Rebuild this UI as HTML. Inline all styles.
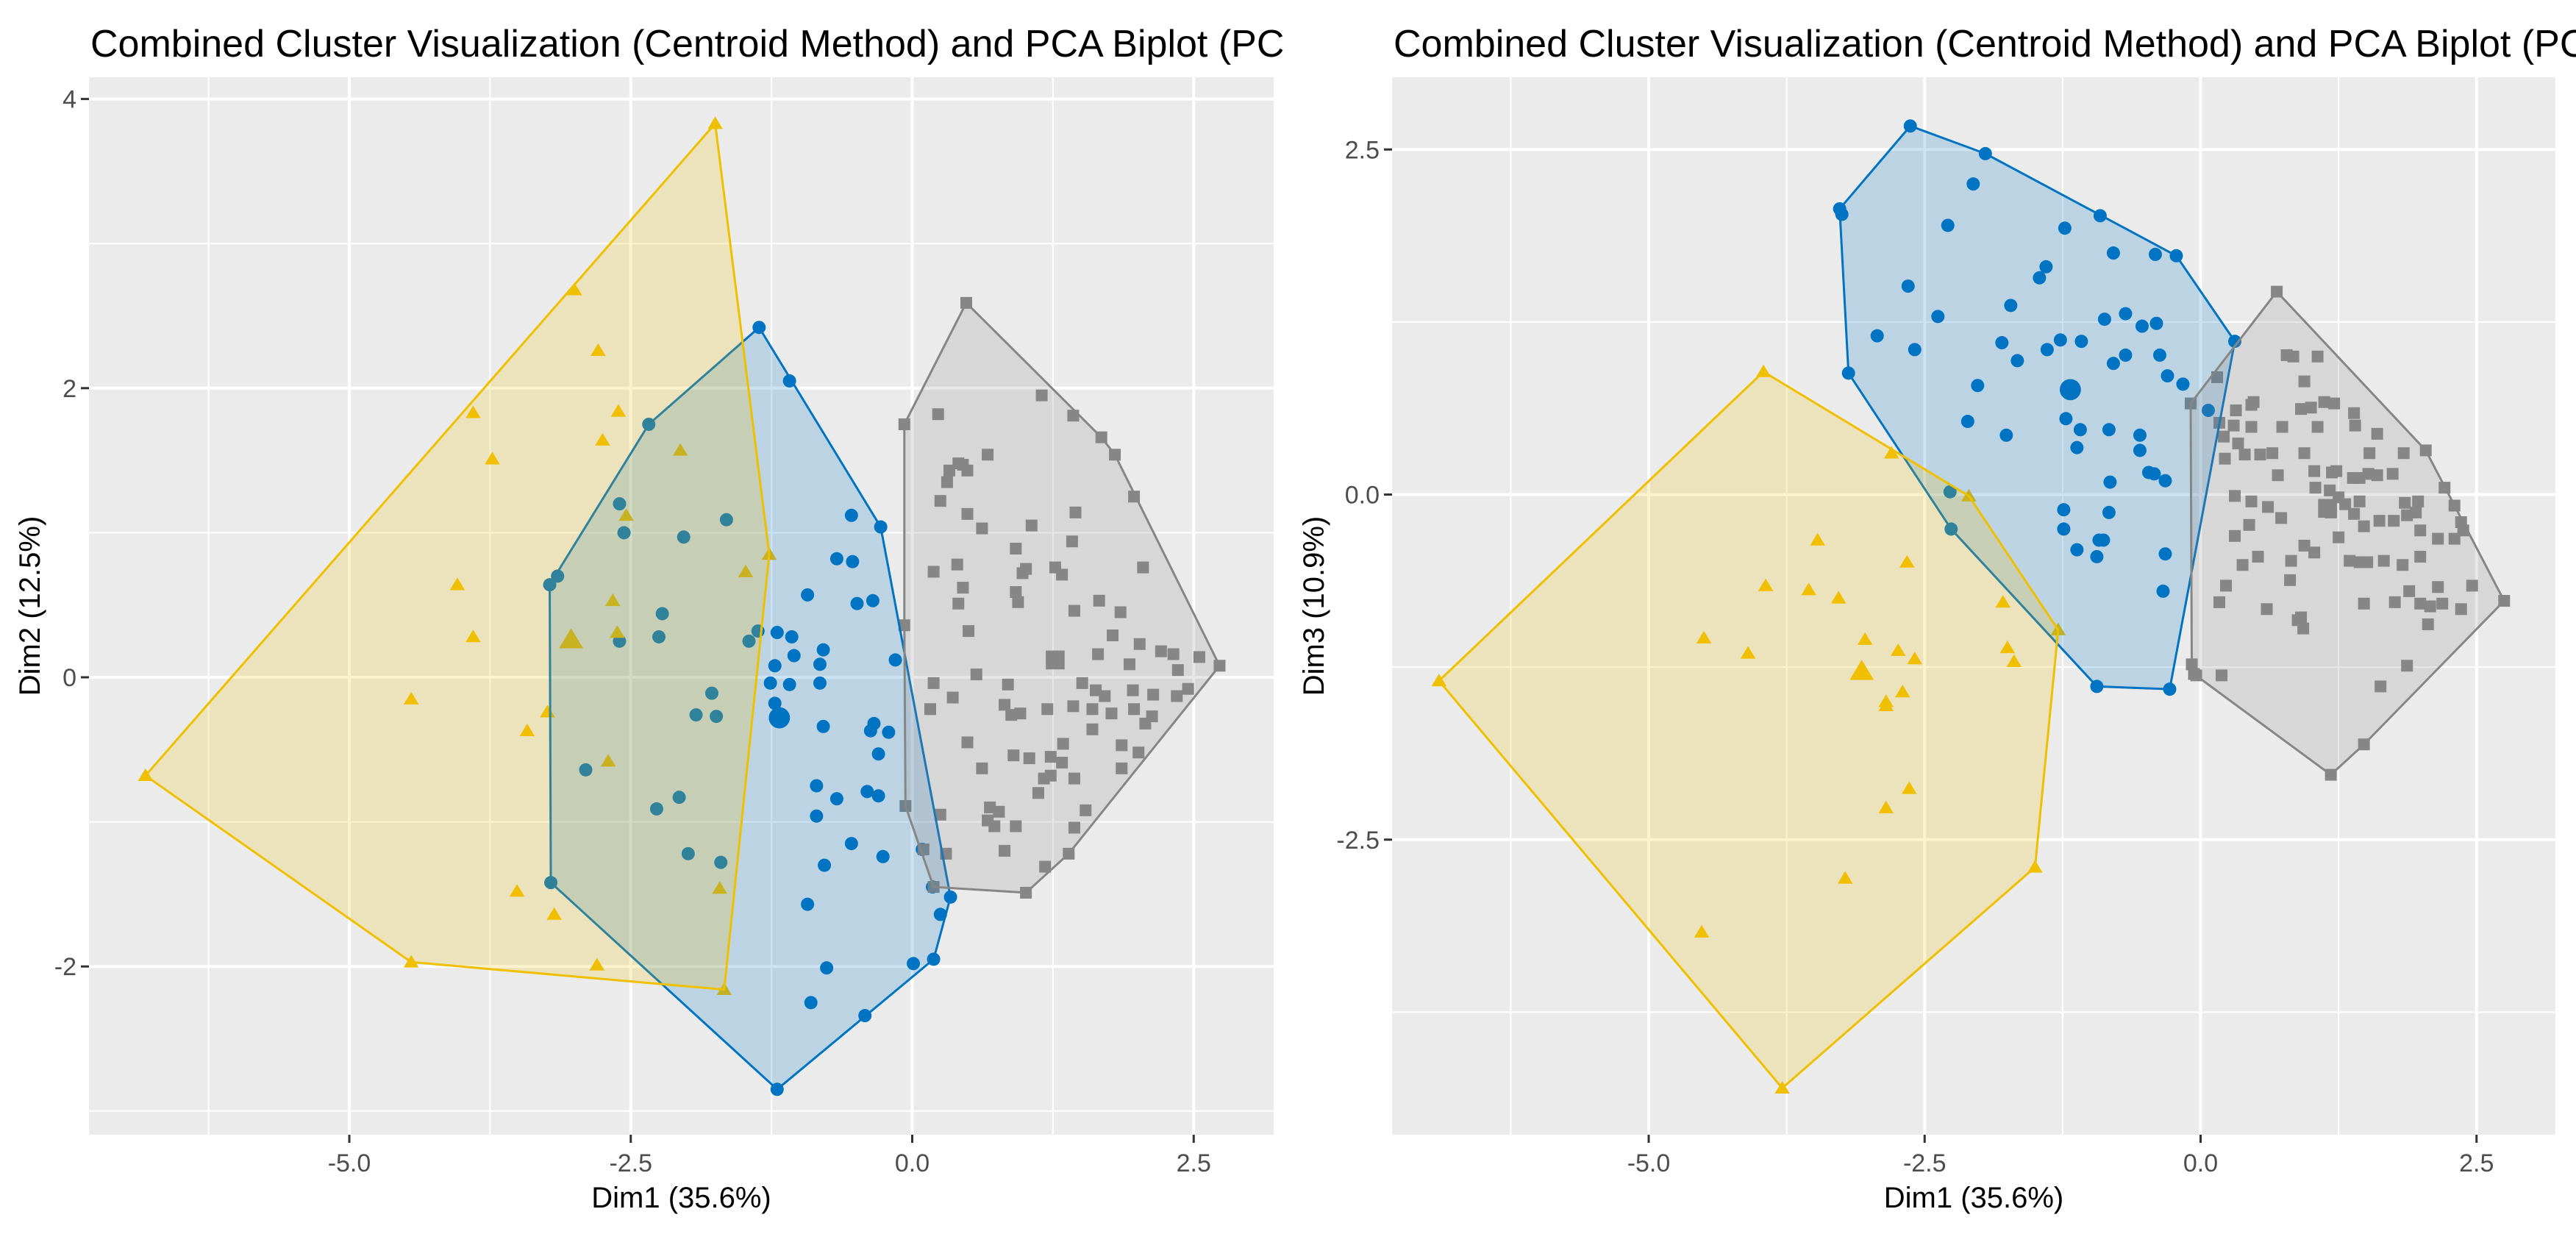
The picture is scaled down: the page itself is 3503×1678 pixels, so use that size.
<!DOCTYPE html>
<html><head><meta charset="utf-8">
<style>
html,body{margin:0;padding:0;background:#fff;}
svg{display:block;font-family:"Liberation Sans",Arial,sans-serif;}
</style></head>
<body>
<svg id="chart" width="3503" height="1678" viewBox="0 0 3503 1678" xmlns="http://www.w3.org/2000/svg">
<defs>
<clipPath id="clipL"><rect x="0" y="0" width="1748" height="1678"/></clipPath>
<clipPath id="clipR"><rect x="1750" y="0" width="1753" height="1678"/></clipPath>
</defs>
<g id="left" clip-path="url(#clipL)"></g>
<g id="right" clip-path="url(#clipR)"></g>
</svg>
<script>
// ===== Left panel data (Dim1 vs Dim2) =====
const leftBlueX=[-1.36,-1.09,-2.34,-0.54,-0.28,-2.60,-1.65,-2.56,-2.03,-3.15,-3.22,-0.67,-0.53,-0.93,-0.35,-0.49,-2.22,-1.37,-1.20,-1.07,-2.25,-2.60,-1.45,-0.79,-1.05,-0.15,-1.22,-0.82,-1.26,-1.09,-0.82,-1.78,-1.22,-1.92,-1.74,-1.18,-0.79,-0.34,-0.37,-0.21,-0.30,-2.90,-0.85,-0.67,-0.40,-0.30,-0.85,-2.27,-2.07,0.09,-0.54,-1.99,-0.26,-0.78,-1.70,0.18,0.34,0.25,-0.93,-3.21,0.19,0.01,-0.76,-0.90,-0.42,-1.20];
const leftBlueY=[2.42,2.05,1.75,1.12,1.04,1.20,1.09,1.00,0.97,0.70,0.64,0.82,0.80,0.57,0.53,0.51,0.44,0.32,0.31,0.28,0.28,0.25,0.25,0.19,0.15,0.12,0.08,0.09,-0.04,-0.05,-0.04,-0.11,-0.18,-0.26,-0.27,-0.26,-0.34,-0.32,-0.37,-0.38,-0.53,-0.64,-0.75,-0.84,-0.79,-0.82,-0.96,-0.91,-0.83,-1.19,-1.15,-1.22,-1.24,-1.30,-1.28,-1.45,-1.52,-1.64,-1.57,-1.42,-1.95,-1.98,-2.01,-2.25,-2.34,-2.85];
const leftYellowX=[-1.75,-3.00,-2.79,-3.90,-2.61,-2.75,-3.73,-2.06,-2.54,-4.04,-1.48,-1.27,-2.66,-3.90,-2.62,-4.45,-3.24,-3.42,-2.70,-6.81,-1.71,-3.51,-3.18,-2.80,-4.45,-1.67];
const leftYellowY=[3.83,2.68,2.26,1.83,1.84,1.64,1.51,1.57,1.12,0.64,0.73,0.85,0.53,0.28,0.31,-0.15,-0.24,-0.37,-0.58,-0.68,-1.46,-1.48,-1.64,-1.99,-1.97,-2.16];
const leftGrayX=[0.48,1.15,1.43,0.23,1.68,1.80,0.67,-0.07,0.45,0.49,0.33,0.41,0.31,1.97,0.25,0.49,1.45,1.06,0.62,1.42,0.92,0.19,0.40,1.01,0.98,1.27,1.33,2.05,0.45,0.92,1.66,0.41,0.94,1.85,0.50,1.44,-0.07,1.78,2.02,1.65,2.21,2.32,2.55,1.93,2.36,2.73,0.57,0.19,0.85,1.51,1.63,1.96,1.71,2.14,2.35,2.45,0.36,0.16,0.82,1.20,1.43,1.60,1.77,1.97,2.13,0.88,0.96,2.07,1.60,1.34,1.86,0.49,0.90,1.04,1.23,1.33,2.01,0.62,1.23,1.17,1.44,1.86,1.12,-0.06,0.25,0.69,0.77,0.67,0.73,0.92,1.44,1.54,0.10,0.30,0.82,1.39,1.18,0.19,1.01];
const leftGrayY=[2.59,1.95,1.81,1.82,1.66,1.54,1.54,1.75,1.47,1.43,1.43,1.48,1.35,1.25,1.22,1.13,1.14,1.05,1.03,0.94,0.89,0.73,0.78,0.75,0.72,0.76,0.71,0.76,0.62,0.59,0.53,0.51,0.52,0.45,0.32,0.46,0.36,0.29,0.23,0.16,0.18,0.16,0.14,0.09,0.05,0.08,0.02,-0.04,-0.05,-0.04,-0.09,-0.09,-0.13,-0.12,-0.13,-0.08,-0.14,-0.22,-0.19,-0.22,-0.20,-0.22,-0.25,-0.22,-0.27,-0.26,-0.25,-0.32,-0.36,-0.46,-0.47,-0.45,-0.54,-0.56,-0.55,-0.59,-0.52,-0.63,-0.68,-0.70,-0.70,-0.63,-0.80,-0.89,-0.95,-0.90,-0.93,-0.99,-1.03,-1.03,-1.04,-0.92,-1.19,-1.22,-1.20,-1.22,-1.31,-1.45,-1.49];
const leftCentroidsX=[-1.18,-3.03,1.27];
const leftCentroidsY=[-0.28,0.26,0.12];

// ===== Right panel data (Dim1 vs Dim3) =====
const rightBlueX=[-2.63,-1.95,-2.06,-3.27,-3.25,-0.91,-2.29,-1.23,-0.79,-0.41,-0.22,-1.40,-1.46,-2.65,-1.72,-2.38,-0.87,-0.68,-0.53,-0.40,-2.93,-1.80,-1.27,-1.08,-2.59,-1.39,-0.37,-0.68,-0.79,-1.66,-0.30,-0.16,-3.19,0.31,-2.02,0.07,-2.11,-1.22,-1.09,-0.83,-1.76,-0.55,-1.12,-0.55,-0.47,-0.42,-0.82,-0.32,-1.24,-0.83,-1.24,-1.12,-0.92,-0.88,-0.94,-0.32,-0.34,-2.27,-2.26,-0.94,-0.28];
const rightBlueY=[2.67,2.47,2.25,2.07,2.03,2.02,1.95,1.93,1.75,1.74,1.73,1.65,1.57,1.51,1.37,1.29,1.27,1.31,1.22,1.24,1.15,1.10,1.12,1.11,1.05,1.05,1.01,1.01,0.95,0.97,0.86,0.80,0.88,1.11,0.79,0.61,0.53,0.55,0.47,0.47,0.43,0.43,0.34,0.32,0.16,0.15,0.09,0.10,-0.11,-0.13,-0.25,-0.40,-0.33,-0.33,-0.45,-0.43,-0.70,0.02,-0.25,-1.39,-1.41];
const rightYellowX=[-3.96,-2.80,-2.10,-3.47,-2.66,-3.94,-3.55,-3.28,-1.79,-1.29,-4.50,-3.04,-4.10,-2.74,-1.75,-2.59,-1.69,-2.70,-2.85,-2.85,-2.64,-2.85,-3.22,-1.50,-4.52,-3.79,-6.90];
const rightYellowY=[0.89,0.30,-0.01,-0.33,-0.49,-0.66,-0.69,-0.75,-0.78,-0.98,-1.04,-1.05,-1.15,-1.13,-1.11,-1.19,-1.21,-1.43,-1.50,-1.53,-2.13,-2.27,-2.78,-2.70,-3.17,-4.30,-1.35];
const rightGrayX=[0.69,0.78,0.84,1.06,0.94,0.15,-0.09,0.32,0.46,0.48,0.91,1.00,1.12,1.21,1.39,0.17,0.30,0.46,0.74,1.06,1.40,1.60,0.21,0.34,0.40,0.54,0.65,0.94,1.53,1.84,2.04,0.22,0.70,1.03,1.19,1.23,1.38,1.44,1.52,1.60,1.74,0.31,0.46,0.61,0.73,1.04,1.17,1.25,1.31,1.18,1.39,1.44,1.62,1.75,1.85,1.97,1.87,1.95,1.99,2.15,2.21,2.30,2.36,2.38,2.30,0.31,0.44,1.25,1.48,0.94,1.03,0.82,0.52,0.38,1.35,1.44,1.51,1.66,1.83,1.99,0.23,0.17,0.81,1.89,2.15,2.46,1.48,1.76,1.99,2.08,2.19,2.36,2.06,0.60,0.88,0.91,0.93,-0.08,-0.04,0.19,-0.06,1.87,1.63,1.48,1.18,2.75];
const rightGrayY=[1.47,1.01,1.00,1.00,0.82,0.85,0.66,0.61,0.65,0.67,0.62,0.63,0.67,0.66,0.59,0.52,0.50,0.49,0.49,0.49,0.50,0.44,0.42,0.37,0.29,0.29,0.30,0.30,0.30,0.30,0.32,0.26,0.14,0.17,0.16,0.17,0.12,0.12,0.15,0.14,0.15,-0.01,-0.05,-0.09,-0.17,0.05,0.03,-0.02,-0.07,-0.13,-0.14,-0.05,-0.19,-0.19,-0.06,-0.05,-0.15,-0.13,-0.26,-0.32,0.05,-0.08,-0.20,-0.26,-0.32,-0.30,-0.22,-0.31,-0.23,-0.37,-0.42,-0.48,-0.45,-0.51,-0.48,-0.49,-0.49,-0.48,-0.51,-0.45,-0.66,-0.78,-0.62,-0.70,-0.67,-0.66,-0.79,-0.78,-0.79,-0.81,-0.79,-0.83,-0.94,-0.83,-0.91,-0.89,-0.97,-1.23,-1.31,-1.31,-1.30,-1.24,-1.39,-1.81,-2.03,-0.77];
const rightCentroidsX=[-1.18,-3.07,1.15];
const rightCentroidsY=[0.76,-1.28,-0.10];

// ===== Axis config =====
const xTicks=[-5.0,-2.5,0.0,2.5];
const xTickLabels=["-5.0","-2.5","0.0","2.5"];
const xMinor=[-6.25,-3.75,-1.25,1.25];
const leftYTicks=[-2,0,2,4];
const leftYTickLabels=["-2","0","2","4"];
const leftYMinor=[-3,-1,1,3];
const rightYTicks=[-2.5,0.0,2.5];
const rightYTickLabels=["-2.5","0.0","2.5"];
const rightYMinor=[-3.75,-1.25,1.25];

const NS="http://www.w3.org/2000/svg";
const BLUE="#0073C2",YEL="#EFC000",GRAY="#868686";

function mk(parent,tag,attrs){const e=document.createElementNS(NS,tag);for(const k in attrs)e.setAttribute(k,attrs[k]);parent.appendChild(e);return e;}

function hull(xs,ys){
  const p=xs.map((x,i)=>[x,ys[i]]).sort((a,b)=>a[0]-b[0]||a[1]-b[1]);
  const cr=(o,a,b)=>(a[0]-o[0])*(b[1]-o[1])-(a[1]-o[1])*(b[0]-o[0]);
  const lo=[],up=[];
  for(const q of p){while(lo.length>=2&&cr(lo[lo.length-2],lo[lo.length-1],q)<=0)lo.pop();lo.push(q);}
  for(let i=p.length-1;i>=0;i--){const q=p[i];while(up.length>=2&&cr(up[up.length-2],up[up.length-1],q)<=0)up.pop();up.push(q);}
  up.pop();lo.pop();return lo.concat(up);
}

function marker(g,shape,cx,cy,s,color,name){
  let e;
  if(shape==="circle"){e=mk(g,"circle",{cx:cx,cy:cy,r:s,fill:color});}
  else if(shape==="tri"){const h=s*1.15;e=mk(g,"polygon",{points:`${cx},${cy-h} ${cx-h*1.05},${cy+h*0.75} ${cx+h*1.05},${cy+h*0.75}`,fill:color});}
  else {e=mk(g,"rect",{x:cx-s,y:cy-s,width:2*s,height:2*s,fill:color});}
  
  
}

function panel(cfg){
  const g=document.getElementById(cfg.id);
  const sx=v=>cfg.x0+cfg.kx*v, sy=v=>cfg.y0-cfg.ky*v;
  const bg=mk(g,"rect",{x:cfg.L,y:cfg.T,width:cfg.R-cfg.L,height:cfg.B-cfg.T,fill:"#EBEBEB"});
  
  
  xMinor.forEach(v=>{const l=mk(g,"line",{x1:sx(v),x2:sx(v),y1:cfg.T,y2:cfg.B,stroke:"#fff","stroke-width":2});
    
    });
  cfg.yMinor.forEach(v=>{const l=mk(g,"line",{x1:cfg.L,x2:cfg.R,y1:sy(v),y2:sy(v),stroke:"#fff","stroke-width":2});
    
    });
  xTicks.forEach((v,i)=>{
    const l=mk(g,"line",{x1:sx(v),x2:sx(v),y1:cfg.T,y2:cfg.B,stroke:"#fff","stroke-width":4});
    
    
    const t=mk(g,"line",{x1:sx(v),x2:sx(v),y1:cfg.B,y2:cfg.B+11,stroke:"#333","stroke-width":3});
    
    
    const tx=mk(g,"text",{x:sx(v),y:cfg.B+50,"text-anchor":"middle","font-size":34,fill:"#4D4D4D"});
    tx.textContent=xTickLabels[i];
    
    
  });
  cfg.yTicks.forEach((v,i)=>{
    const l=mk(g,"line",{x1:cfg.L,x2:cfg.R,y1:sy(v),y2:sy(v),stroke:"#fff","stroke-width":4});
    
    
    const t=mk(g,"line",{x1:cfg.L-11,x2:cfg.L,y1:sy(v),y2:sy(v),stroke:"#333","stroke-width":3});
    
    
    const tx=mk(g,"text",{x:cfg.L-17,y:sy(v)+12,"text-anchor":"end","font-size":34,fill:"#4D4D4D"});
    tx.textContent=cfg.yTickLabels[i];
    
    
  });
  const series=[
    {xs:cfg.blueX,ys:cfg.blueY,c:BLUE,shape:"circle",s:9,n:"cluster-1"},
    {xs:cfg.yelX,ys:cfg.yelY,c:YEL,shape:"tri",s:8.5,n:"cluster-2"},
    {xs:cfg.grayX,ys:cfg.grayY,c:GRAY,shape:"sq",s:8,n:"cluster-3"}];
  series.forEach(se=>{
    const pg=mk(g,"g",{});
    
    
    se.xs.forEach((x,i)=>marker(pg,se.shape,sx(x),sy(se.ys[i]),se.s,se.c,se.n+'-point'));
  });
  series.forEach((se,k)=>{
    marker(g,se.shape,sx(cfg.cX[k]),sy(cfg.cY[k]),se.s*1.6,se.c,se.n+'-centroid');
  });
  series.forEach(se=>{
    const h=hull(se.xs,se.ys);
    const pts=h.map(p=>sx(p[0])+","+sy(p[1])).join(" ");
    const pl=mk(g,"polygon",{points:pts,fill:se.c,"fill-opacity":0.2,stroke:se.c,"stroke-width":3,"stroke-linejoin":"round"});
    
    
  });
  const ti=mk(g,"text",{x:cfg.L+2,y:77,"font-size":52,fill:"#000"});
  ti.textContent="Combined Cluster Visualization (Centroid Method) and PCA Biplot (PC1 vs "+cfg.yName+")";
  
  
  const xt=mk(g,"text",{x:(cfg.L+cfg.R)/2,y:1642,"text-anchor":"middle","font-size":40,fill:"#000"});
  xt.textContent="Dim1 (35.6%)";
  
  
  const yc=(cfg.T+cfg.B)/2;
  const yt=mk(g,"text",{x:cfg.ytX,y:yc,"text-anchor":"middle","font-size":40,fill:"#000",transform:`rotate(-90 ${cfg.ytX} ${yc})`});
  yt.textContent=cfg.yTitle;
  
  
}

panel({id:"left",L:121,R:1732,T:105,B:1543,x0:1240.5,kx:153.1,y0:921,ky:196.6,
  yTicks:leftYTicks,yTickLabels:leftYTickLabels,yMinor:leftYMinor,
  blueX:leftBlueX,blueY:leftBlueY,yelX:leftYellowX,yelY:leftYellowY,grayX:leftGrayX,grayY:leftGrayY,
  cX:leftCentroidsX,cY:leftCentroidsY,yTitle:"Dim2 (12.5%)",yName:"PC2",ytX:54});
panel({id:"right",L:1893,R:3475,T:105,B:1543,x0:2992.5,kx:150.1,y0:672.5,ky:187.7,
  yTicks:rightYTicks,yTickLabels:rightYTickLabels,yMinor:rightYMinor,
  blueX:rightBlueX,blueY:rightBlueY,yelX:rightYellowX,yelY:rightYellowY,grayX:rightGrayX,grayY:rightGrayY,
  cX:rightCentroidsX,cY:rightCentroidsY,yTitle:"Dim3 (10.9%)",yName:"PC3",ytX:1800});
</script>
</body></html>
